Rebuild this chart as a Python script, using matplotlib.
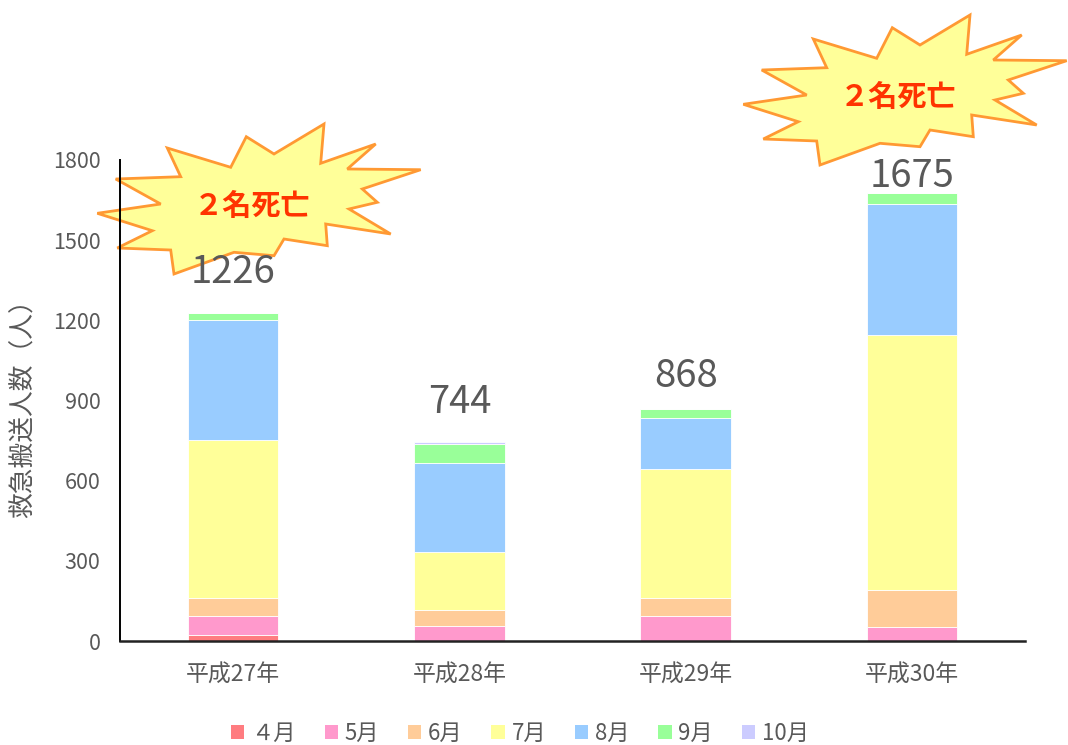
import matplotlib
matplotlib.use("Agg")
import matplotlib.pyplot as plt
import numpy as np
from matplotlib.patches import Polygon

plt.rcParams['font.family'] = ['Noto Sans CJK JP', 'DejaVu Sans']

# ---- data ----
categories = ['平成27年', '平成28年', '平成29年', '平成30年']
months = ['４月', '5月', '6月', '7月', '8月', '9月', '10月']
apr = [22, 0, 0, 0]
may = [73, 56, 94, 52]
jun = [66, 59, 68, 138]
jul = [591, 219, 480, 954]
aug = [449, 331, 194, 490]
sep = [25, 72, 31, 41]
oct_ = [0, 7, 1, 0]
series = [apr, may, jun, jul, aug, sep, oct_]
colors = ['#FF7C80', '#FF99CC', '#FFCC99', '#FFFF99', '#99CCFF', '#99FF99', '#CCCCFF']
yticks = [0, 300, 600, 900, 1200, 1500, 1800]
ylabel = '救急搬送人数（人）'
callout_text = '２名死亡'
callout_bars = [0, 3]

# label offsets above bar tops (points) - styling
label_offsets = [21.6, 20.9, 15.8, 4.3]

W, H = 1068, 745
fig = plt.figure(figsize=(W / 100, H / 100), dpi=100)
ax = fig.add_axes([120 / W, (H - 641) / H, (1025 - 120) / W, (641 - 160) / H])

x = np.arange(len(categories))
bottom = np.zeros(len(categories))
for vals, col, lab in zip(series, colors, months):
    ax.bar(x, vals, 0.4, bottom=bottom, color=col, edgecolor='white',
           linewidth=0.6, label=lab, zorder=2)
    bottom += np.array(vals)

totals = bottom
for xi, t, off in zip(x, totals, label_offsets):
    ax.annotate(f'{int(t)}', (xi, t), xytext=(0, off), textcoords='offset points',
                ha='center', va='baseline', fontsize=27.5, color='#595959', zorder=5)

ax.set_xlim(-0.5, len(categories) - 0.5)
ax.set_ylim(0, 1800)
ax.set_yticks(yticks)
ax.set_yticklabels([str(v) for v in yticks])
ax.set_xticks(x)
ax.set_xticklabels(categories)
ax.tick_params(axis='y', length=0, pad=14, labelsize=15.5, labelcolor='#595959')
ax.tick_params(axis='x', length=0, pad=16, labelsize=16.5, labelcolor='#595959')
for s in ['top', 'right']:
    ax.spines[s].set_visible(False)
ax.spines['left'].set_linewidth(1.4)
ax.spines['bottom'].set_linewidth(1.8)
ax.spines['left'].set_color('black')
ax.spines['bottom'].set_color('#222222')
ax.set_facecolor('none')

fig.text(24 / W, 1 - 402 / H, ylabel, rotation=90, ha='center', va='center',
         fontsize=18.5, color='#595959')

# ---- starburst callouts (shape in pixels relative to text center) ----
burst = np.array([
    (743.3, 104.3), (806.7, 95), (761.7, 70), (826.7, 67.7), (813.3, 39),
    (876.7, 58.3), (892.3, 27.7), (920, 45), (970, 15), (966.7, 54.3),
    (1021.7, 35), (993.3, 60), (1066.7, 60.7), (1008.3, 80), (1023.3, 93.3),
    (995, 100), (1036.7, 125), (971.7, 115), (973.3, 136.7), (930, 130),
    (920, 146.7), (880, 143.3), (820, 165), (816.7, 141), (763.3, 139),
    (798.3, 121.7)]) - np.array([898, 97])
centers = {0: (252, 206), 3: (898, 97)}
for b in callout_bars:
    cx, cy = centers[b]
    pts = burst + np.array([cx, cy])
    frac = np.column_stack([pts[:, 0] / W, 1 - pts[:, 1] / H])
    poly = Polygon(frac, closed=True, transform=fig.transFigure, facecolor='#FFFF99',
                   edgecolor='#FF9933', linewidth=2.0, clip_on=False, zorder=1.2,
                   joinstyle='miter')
    ax.add_patch(poly)
    ax.text(cx / W, 1 - cy / H, callout_text, transform=fig.transFigure,
            ha='center', va='center', fontsize=21, fontweight='bold',
            color='#FF3300', zorder=1.3, clip_on=False)

leg = fig.legend(loc='center', bbox_to_anchor=(520 / W, 12 / H), ncol=7,
                 frameon=False, fontsize=16, handlelength=0.6, handleheight=0.6,
                 handletextpad=0.3, columnspacing=1.3, labelcolor='#595959')
for h in leg.legend_handles:
    h.set_edgecolor('none')

fig.savefig('out.png', dpi=100)
